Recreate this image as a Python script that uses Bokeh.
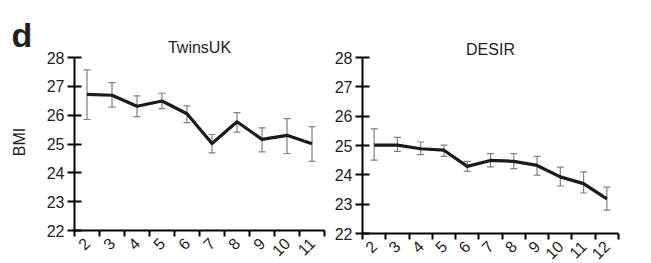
import math
from bokeh.plotting import figure
from bokeh.layouts import row
from bokeh.models import ColumnDataSource, Whisker, FixedTicker, Label, TeeHead, Range1d, Title
from bokeh.embed import file_html
from bokeh.resources import INLINE

# ---- data ----
twins_cat = [2, 3, 4, 5, 6, 7, 8, 9, 10, 11]
twins_bmi = [26.72, 26.69, 26.31, 26.49, 26.05, 25.02, 25.77, 25.16, 25.30, 25.01]
twins_hi = [27.57, 27.13, 26.67, 26.76, 26.32, 25.33, 26.09, 25.56, 25.88, 25.60]
twins_lo = [25.85, 26.28, 25.95, 26.23, 25.74, 24.69, 25.41, 24.73, 24.67, 24.40]

desir_cat = [2, 3, 4, 5, 6, 7, 8, 9, 10, 11, 12]
desir_bmi = [25.01, 25.01, 24.89, 24.84, 24.29, 24.49, 24.46, 24.32, 23.93, 23.70, 23.18]
desir_hi = [25.57, 25.28, 25.12, 25.01, 24.46, 24.72, 24.72, 24.63, 24.26, 24.10, 23.58]
desir_lo = [24.50, 24.80, 24.69, 24.63, 24.12, 24.27, 24.21, 23.99, 23.62, 23.38, 22.80]

y_ticks = [22, 23, 24, 25, 26, 27, 28]
titles = ["TwinsUK", "DESIR"]
panel_letter = "d"
y_label = "BMI"

FONT = "Liberation Sans"
TXT = "#231f20"
H = 263


def make_panel(cats, vals, hi, lo, title, width, frame_w, frame_h, b_left, b_top, t_standoff):
    p = figure(width=width, height=H, frame_width=frame_w, frame_height=frame_h,
               x_range=(cats[0] - 0.5, cats[-1] + 0.5), y_range=(y_ticks[0], y_ticks[-1]),
               output_backend="svg", toolbar_location=None, tools="",
               min_border_left=b_left, min_border_top=b_top, min_border_bottom=H - b_top - frame_h,
               min_border_right=width - b_left - frame_w, title=title)
    p.outline_line_color = None
    p.grid.visible = False
    p.background_fill_color = "white"
    p.border_fill_color = "white"

    p.title.align = "center"
    p.title.text_font = FONT
    p.title.text_font_size = "16px"
    p.title.text_font_style = "normal"
    p.title.text_color = TXT
    p.title.standoff = t_standoff

    src = ColumnDataSource(dict(x=cats, y=vals, hi=hi, lo=lo))
    w = Whisker(base="x", upper="hi", lower="lo", source=src, line_color="#808080", line_width=1.2,
                upper_head=TeeHead(size=7, line_color="#808080", line_width=1.2),
                lower_head=TeeHead(size=7, line_color="#808080", line_width=1.2))
    p.add_layout(w)
    p.line("x", "y", source=src, line_color="#1a1a1a", line_width=3.2, line_join="round")

    # x axis: labels at category centres, ticks at category boundaries
    xa = p.xaxis[0]
    xa.ticker = FixedTicker(ticks=cats, minor_ticks=[c - 0.5 for c in cats] + [cats[-1] + 0.5])
    xa.major_tick_out = 0
    xa.major_tick_in = 0
    xa.minor_tick_out = 6
    xa.minor_tick_in = 0
    xa.minor_tick_line_width = 2
    xa.minor_tick_line_color = "black"
    xa.axis_line_width = 2
    xa.axis_line_color = "black"
    xa.major_label_orientation = math.pi / 4
    xa.major_label_text_font = FONT
    xa.major_label_text_font_size = "16px"
    xa.major_label_text_color = TXT
    xa.major_label_standoff = 4

    ya = p.yaxis[0]
    ya.ticker = FixedTicker(ticks=y_ticks)
    ya.major_tick_out = 7
    ya.major_tick_in = 7
    ya.major_tick_line_width = 2
    ya.major_tick_line_color = "black"
    ya.minor_tick_out = 0
    ya.minor_tick_in = 0
    ya.axis_line_width = 2
    ya.axis_line_color = "black"
    ya.major_label_text_font = FONT
    ya.major_label_text_font_size = "16px"
    ya.major_label_text_color = TXT
    ya.major_label_standoff = 3
    return p


# narrow strip on the far left: panel letter (as title) and the y-axis title.
# Its frame is aligned by the row to the TwinsUK frame (rows 57..230), so the
# range below maps data y = H - pixel row.
W0 = 40
p0 = figure(width=W0, height=H, x_range=Range1d(0, W0), y_range=Range1d(H - 230, H - 57),
            x_axis_location=None, y_axis_location=None, title=None,
            output_backend="svg", toolbar_location=None, tools="", min_border=0)
p0.grid.visible = False
p0.outline_line_color = None
p0.background_fill_color = "white"
p0.border_fill_color = "white"
p0.add_layout(Title(text=panel_letter, align="left", offset=11, standoff=8, text_font=FONT,
                    text_font_size="34px", text_font_style="bold", text_color=TXT), "above")
p0.add_layout(Label(x=18.5, y=H - 142, text=y_label, angle=math.pi / 2, text_font=FONT,
                    text_font_size="16px", text_color=TXT, text_align="center",
                    text_baseline="middle"))

p1 = make_panel(twins_cat, twins_bmi, twins_hi, twins_lo, titles[0], 326 - W0, 250, 173, 74 - W0, 57, 3)
p2 = make_panel(desir_cat, desir_bmi, desir_hi, desir_lo, titles[1], 325, 256, 176, 36, 54, 0)

layout = row(p0, p1, p2, spacing=0)
open("out.html", "w").write(file_html(layout, INLINE))
